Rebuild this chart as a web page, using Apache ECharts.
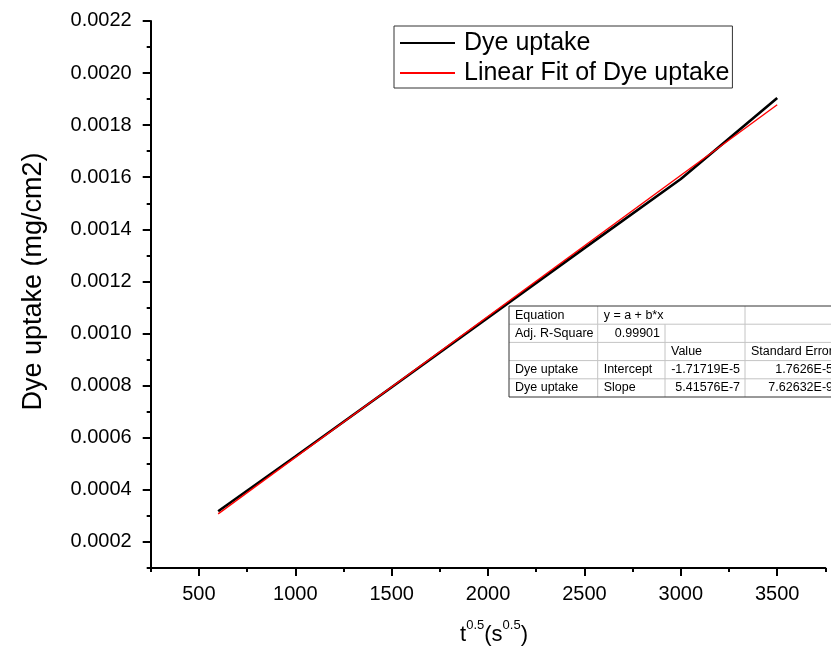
<!DOCTYPE html>
<html>
<head>
<meta charset="utf-8">
<script src="https://cdn.jsdelivr.net/npm/echarts@6/dist/echarts.min.js"></script>
<style>
  html, body { margin: 0; padding: 0; background: #ffffff; }
  #chart { width: 831px; height: 651px; }
</style>
</head>
<body>
<div id="chart"></div>
<script>
// Measured dye uptake against square root of time
const uptakeX = [600, 1000, 1500, 2000, 2500, 3000, 3500];
const uptakeY = [0.000318, 0.000528, 0.000794, 0.001061, 0.001328, 0.001593, 0.001904];

// Linear fit parameters (y = a + b*x) and the x range it spans
const fitIntercept = -1.71719E-5;
const fitSlope = 5.41576E-7;
const fitRange = [600, 3500];

// Tick values
const xTickValues = [500, 1000, 1500, 2000, 2500, 3000, 3500];
const yTickValues = [0.0002, 0.0004, 0.0006, 0.0008, 0.0010, 0.0012, 0.0014, 0.0016, 0.0018, 0.0020, 0.0022];

// Fit report table
const tableRows = [
  ['Equation', 'y = a + b*x', null, ''],
  ['Adj. R-Square', '0.99901', '', ''],
  ['', '', 'Value', 'Standard Error'],
  ['Dye uptake', 'Intercept', '-1.71719E-5', '1.7626E-5'],
  ['Dye uptake', 'Slope', '5.41576E-7', '7.62632E-9']
];

const FONT = '"Liberation Sans", Arial, Helvetica, sans-serif';

const uptakeData = uptakeX.map((x, i) => [x, uptakeY[i]]);
const fitData = fitRange.map(x => [x, fitIntercept + fitSlope * x]);

// table geometry
const colX = [509, 597.7, 665, 745, 838];
const tableTop = 306;
const rowH = 18.2;
const tableChildren = [];
const tableW = colX[colX.length - 1] - colX[0];
const tableH = rowH * tableRows.length;
tableChildren.push({
  type: 'rect',
  shape: { x: 0, y: 0, width: tableW, height: tableH },
  style: { fill: '#ffffff', stroke: null }
});
// horizontal inner rules
for (let r = 1; r < tableRows.length; r++) {
  tableChildren.push({
    type: 'line',
    shape: { x1: 0, y1: r * rowH, x2: tableW, y2: r * rowH },
    style: { stroke: '#c4c4c4', lineWidth: 1 }
  });
}
// vertical inner rules (skip merged cells)
for (let c = 1; c < colX.length - 1; c++) {
  tableRows.forEach((row, r) => {
    if (row[c] === null) return;
    const x = colX[c] - colX[0];
    tableChildren.push({
      type: 'line',
      shape: { x1: x, y1: r * rowH, x2: x, y2: (r + 1) * rowH },
      style: { stroke: '#c4c4c4', lineWidth: 1 }
    });
  });
}
// outer frame
tableChildren.push({
  type: 'rect',
  shape: { x: 0, y: 0, width: tableW, height: tableH },
  style: { fill: null, stroke: '#333333', lineWidth: 1 }
});
// cell text
const isNumber = s => /^-?[0-9.]+(E-?[0-9]+)?$/.test(s);
tableRows.forEach((row, r) => {
  row.forEach((cell, c) => {
    if (!cell) return;
    let right = colX[c + 1] - colX[0];
    if (row[c + 1] === null) right = colX[c + 2] - colX[0];
    const left = colX[c] - colX[0];
    const numeric = isNumber(cell);
    tableChildren.push({
      type: 'text',
      x: numeric ? right - 5 : left + 6,
      y: r * rowH + rowH / 2,
      style: {
        text: cell,
        fill: '#000000',
        font: '12.5px ' + FONT,
        textAlign: numeric ? 'right' : 'left',
        textVerticalAlign: 'middle'
      }
    });
  });
});

const chart = echarts.init(document.getElementById('chart'), null, { renderer: 'canvas' });

const axisBlack = { color: '#000000', width: 2 };

chart.setOption({
  backgroundColor: '#ffffff',
  animation: false,
  textStyle: { fontFamily: FONT },
  grid: { left: 150.7, right: 5.6, top: 20.9, bottom: 82, containLabel: false },
  legend: {
    data: ['Dye uptake', 'Linear Fit of Dye uptake'],
    orient: 'vertical',
    left: 394,
    top: 26,
    padding: [3, 3, 1, 5],
    itemGap: 2,
    itemWidth: 55,
    itemHeight: 14,
    selectedMode: false,
    backgroundColor: '#ffffff',
    borderColor: '#333333',
    borderWidth: 1,
    borderRadius: 0,
    itemStyle: { opacity: 0 },
    textStyle: { fontSize: 25, color: '#000000', fontFamily: FONT, lineHeight: 28, padding: [0, 0, 0, 4] }
  },
  xAxis: [
    {
      type: 'value',
      min: 250,
      max: 3750,
      interval: 250,
      position: 'bottom',
      name: '{b|t}{s|0.5}{b|(s}{s|0.5}{b|)}',
      nameLocation: 'middle',
      nameGap: 48,
      nameTextStyle: {
        padding: [0, 0, 0, 12],
        rich: {
          b: { fontSize: 22, fontFamily: FONT, color: '#000', lineHeight: 30, verticalAlign: 'bottom' },
          s: { fontSize: 13, fontFamily: FONT, color: '#000', lineHeight: 30, verticalAlign: 'top', padding: [3, 0, 0, 0] }
        }
      },
      axisLine: { show: true, onZero: false, lineStyle: axisBlack },
      axisTick: { show: true, customValues: xTickValues, length: 8, lineStyle: axisBlack },
      axisLabel: {
        customValues: xTickValues,
        fontSize: 20,
        color: '#000',
        margin: 16,
        fontFamily: FONT,
        formatter: v => String(Math.round(v))
      },
      splitLine: { show: false }
    },
    {
      type: 'value',
      min: 250,
      max: 3750,
      interval: 250,
      position: 'bottom',
      axisLine: { show: false, onZero: false },
      axisTick: { show: true, length: 4, lineStyle: axisBlack },
      axisLabel: { show: false },
      splitLine: { show: false }
    }
  ],
  yAxis: [
    {
      type: 'value',
      min: 0.0001,
      max: 0.0022,
      interval: 0.0001,
      position: 'left',
      name: 'Dye uptake (mg/cm2)',
      nameLocation: 'middle',
      nameRotate: 90,
      nameGap: 104,
      nameTextStyle: { fontSize: 27, color: '#000', fontFamily: FONT, padding: [0, 0, 0, 26] },
      axisLine: { show: true, onZero: false, lineStyle: axisBlack },
      axisTick: { show: true, customValues: yTickValues, length: 8, lineStyle: axisBlack },
      axisLabel: {
        customValues: yTickValues,
        fontSize: 20,
        color: '#000',
        margin: 19,
        fontFamily: FONT,
        formatter: v => Number(v).toFixed(4)
      },
      splitLine: { show: false }
    },
    {
      type: 'value',
      min: 0.0001,
      max: 0.0022,
      interval: 0.0001,
      position: 'left',
      axisLine: { show: false, onZero: false },
      axisTick: { show: true, length: 4, lineStyle: axisBlack },
      axisLabel: { show: false },
      splitLine: { show: false }
    }
  ],
  series: [
    {
      name: 'Dye uptake',
      type: 'line',
      xAxisIndex: 0,
      yAxisIndex: 0,
      data: uptakeData,
      symbol: 'none',
      lineStyle: { color: '#000000', width: 2.6 },
      itemStyle: { color: '#000000' },
      z: 2
    },
    {
      name: 'Linear Fit of Dye uptake',
      type: 'line',
      xAxisIndex: 0,
      yAxisIndex: 0,
      data: fitData,
      symbol: 'none',
      lineStyle: { color: '#ff0000', width: 1.4 },
      itemStyle: { color: '#ff0000' },
      z: 3
    }
  ],
  graphic: [
    {
      type: 'group',
      x: colX[0],
      y: tableTop,
      z: 10,
      children: tableChildren
    }
  ]
});
</script>
</body>
</html>
